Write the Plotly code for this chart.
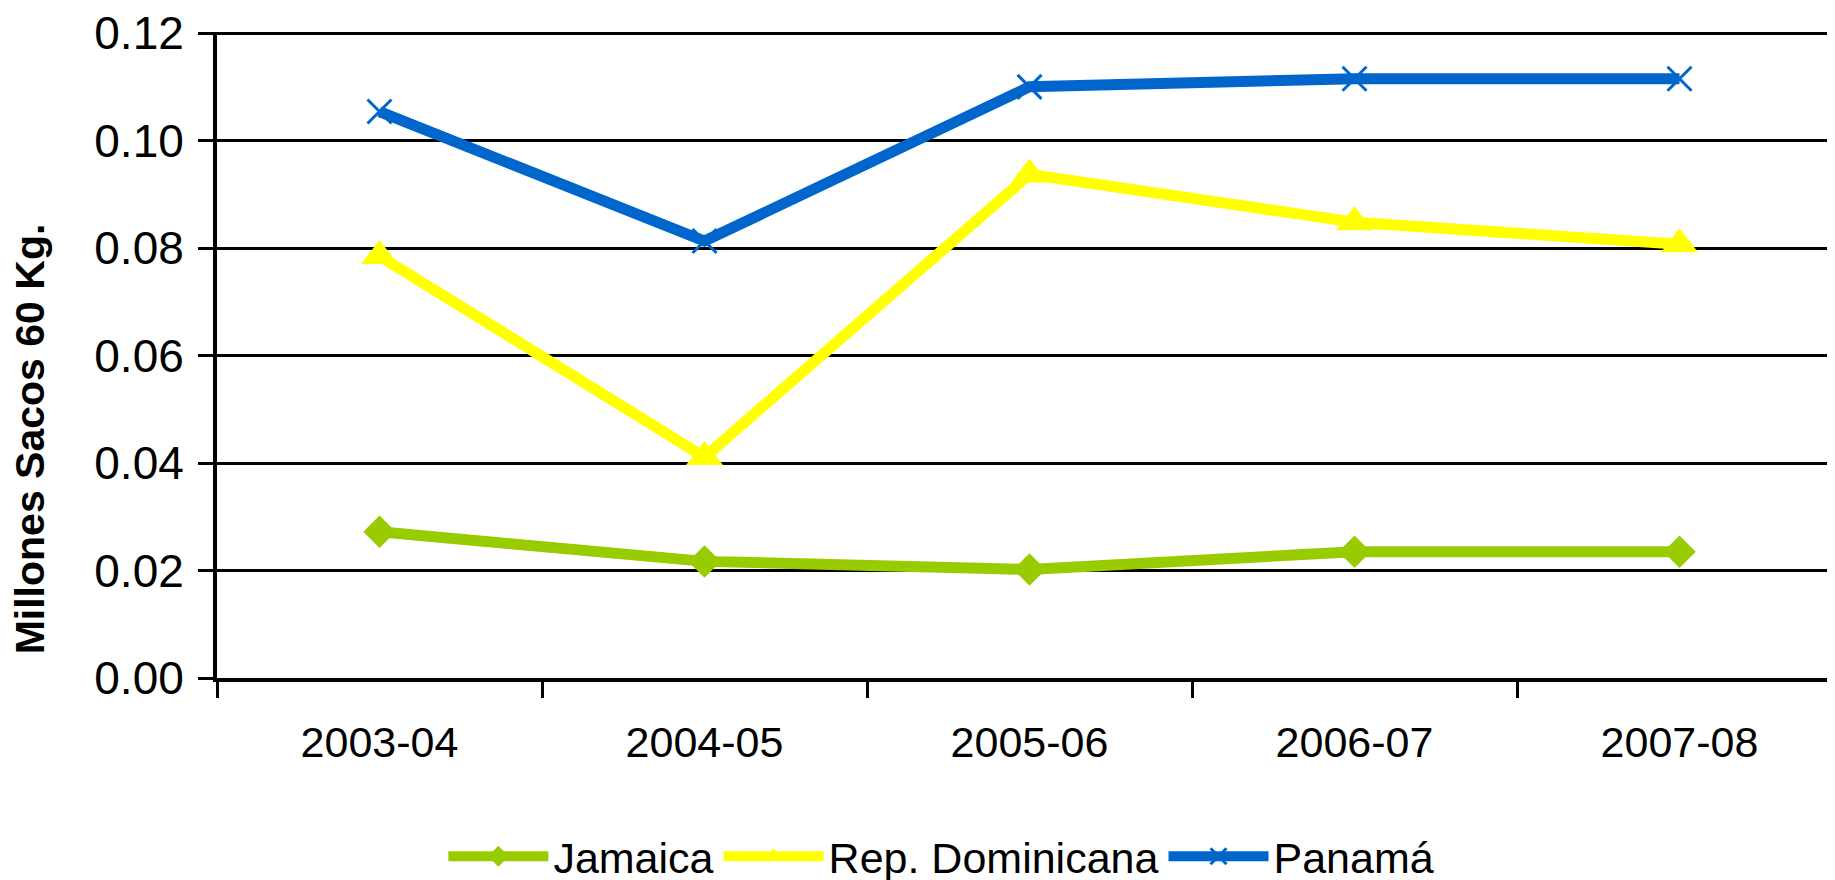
import plotly.graph_objects as go

categories = ["2003-04", "2004-05", "2005-06", "2006-07", "2007-08"]
jamaica = [0.0272, 0.0217, 0.0202, 0.0235, 0.0235]
rep_dominicana = [0.0785, 0.0411, 0.0937, 0.0848, 0.0807]
panama = [0.1054, 0.0813, 0.1100, 0.1115, 0.1115]
y_ticks = [0.00, 0.02, 0.04, 0.06, 0.08, 0.10, 0.12]
y_title = "Millones Sacos 60 Kg."

FONT = "Liberation Sans, Arial, sans-serif"

fig = go.Figure()
fig.add_trace(go.Scatter(
    x=categories, y=jamaica, name="Jamaica", mode="lines+markers",
    line=dict(color="#99CC00", width=11),
    marker=dict(symbol="diamond", size=25, color="#99CC00"),
))
fig.add_trace(go.Scatter(
    x=categories, y=rep_dominicana, name="Rep. Dominicana", mode="lines+markers",
    line=dict(color="#FFFF00", width=11),
    marker=dict(symbol="triangle-up", size=32, color="#FFFF00"),
))
fig.add_trace(go.Scatter(
    x=categories, y=panama, name="Panamá", mode="lines+markers",
    line=dict(color="#0066CC", width=11),
    marker=dict(symbol="x-thin", size=24, color="#0066CC",
                line=dict(color="#0066CC", width=3)),
))

fig.update_layout(
    width=1835, height=880,
    margin=dict(l=209, r=0, t=24, b=210, autoexpand=False),
    paper_bgcolor="white", plot_bgcolor="white",
    font=dict(family=FONT, size=43, color="black"),
    showlegend=True,
    legend=dict(orientation="h", xanchor="center", x=0.4455,
                yanchor="middle", y=-0.276, itemwidth=100,
                font=dict(family=FONT, size=43, color="black"),
                bgcolor="rgba(0,0,0,0)"),
    annotations=[dict(text="<b>" + y_title + "</b>", textangle=-90,
                      xref="paper", yref="paper", x=-0.1148, y=0.37,
                      xanchor="center", yanchor="middle", showarrow=False,
                      font=dict(family=FONT, size=41, color="black"))],
)
fig.update_xaxes(
    type="category", range=[-0.5, 4.503], automargin=False,
    showline=True, linecolor="black", linewidth=4,
    ticks="outside", tickson="boundaries", ticklen=16, tickwidth=3, tickcolor="black",
    showgrid=False, zeroline=False,
    tickfont=dict(family=FONT, size=43, color="black"),
    ticklabelstandoff=23,
)
fig.update_yaxes(
    range=[0, 0.1202], tickvals=y_ticks, ticktext=[f"{v:.2f}" for v in y_ticks],
    automargin=False, ticklabeloverflow="allow",
    showline=True, linecolor="black", linewidth=4,
    ticks="outside", ticklen=15, tickwidth=3, tickcolor="black",
    showgrid=True, gridcolor="black", gridwidth=3,
    zeroline=False,
    tickfont=dict(family=FONT, size=46, color="black"),
    ticklabelstandoff=5,
)

fig.write_html("out.html")
